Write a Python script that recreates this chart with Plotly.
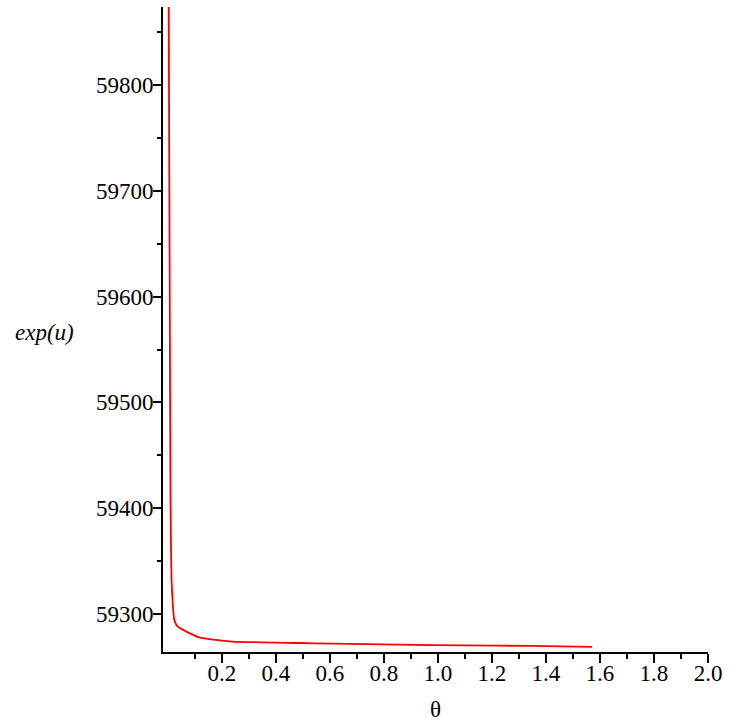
import plotly.graph_objects as go

theta = [0.0036, 0.0074, 0.0103, 0.0140, 0.0177, 0.0240, 0.0360, 0.0670,
         0.1160, 0.1780, 0.2380, 0.4850, 0.6070, 0.8540, 1.1010, 1.3440, 1.5708]
exp_u = [59880.0, 59597.0, 59408.0, 59332.0, 59313.5, 59294.6, 59288.3, 59283.6,
         59278.0, 59275.5, 59274.0, 59272.6, 59272.0, 59271.0, 59270.4, 59269.8, 59269.0]

x_ticks = [0.2, 0.4, 0.6, 0.8, 1.0, 1.2, 1.4, 1.6, 1.8, 2.0]
x_labels = ["0.2", "0.4", "0.6", "0.8", "1.0", "1.2", "1.4", "1.6", "1.8", "2.0"]
y_ticks = [59300, 59400, 59500, 59600, 59700, 59800]
y_labels = ["59300", "59400", "59500", "59600", "59700", "59800"]

font_family = "Liberation Serif, Times New Roman, serif"

fig = go.Figure()
fig.add_trace(go.Scatter(x=theta, y=exp_u, mode="lines",
                         line=dict(color="#ff0000", width=1.8, shape="spline", smoothing=0.6),
                         showlegend=False, hoverinfo="skip"))

fig.update_layout(
    width=729, height=722,
    margin=dict(l=163, r=19, t=7, b=70),
    paper_bgcolor="white", plot_bgcolor="white",
    font=dict(family=font_family, size=23, color="black"),
    xaxis=dict(range=[-0.0175, 2.0], tickmode="array", tickvals=x_ticks, ticktext=x_labels,
               showgrid=False, zeroline=False, showline=True, linecolor="black", linewidth=2,
               ticks="outside", ticklen=9, tickwidth=2, tickcolor="black",
               minor=dict(tickmode="array", tickvals=[0.1, 0.3, 0.5, 0.7, 0.9, 1.1, 1.3, 1.5, 1.7, 1.9],
                          ticks="outside", ticklen=5, tickwidth=2, tickcolor="black"),
               tickfont=dict(family=font_family, size=23), ticklabelstandoff=-10),
    yaxis=dict(range=[59264.1, 59873.7], tickmode="array", tickvals=y_ticks, ticktext=y_labels,
               showgrid=False, zeroline=False, showline=True, linecolor="black", linewidth=2,
               ticks="outside", ticklen=8, tickwidth=2, tickcolor="black",
               minor=dict(tickmode="array", tickvals=[59300, 59350, 59400, 59450, 59500, 59550, 59600,
                                                      59650, 59700, 59750, 59800, 59850],
                          ticks="outside", ticklen=4, tickwidth=2, tickcolor="black"),
               tickfont=dict(family=font_family, size=23), ticklabelstandoff=-5),
    annotations=[
        dict(text="<i>exp(u)</i>", x=12, y=332, xref="paper", yref="paper", showarrow=False,
             font=dict(family=font_family, size=23), xanchor="left", yanchor="middle"),
        dict(text="θ", x=0.5, y=0, xref="paper", yref="paper", showarrow=False,
             font=dict(family=font_family, size=23)),
    ],
)

plot_w = 729 - 163 - 19
plot_h = 722 - 7 - 70
fig.layout.annotations[0].update(x=(12 - 163) / plot_w, y=(722 - 70 - 332) / plot_h)
fig.layout.annotations[1].update(x=(437 - 163) / plot_w, y=(722 - 70 - 709) / plot_h,
                                 xanchor="center", yanchor="middle")

fig.write_html("out.html")
